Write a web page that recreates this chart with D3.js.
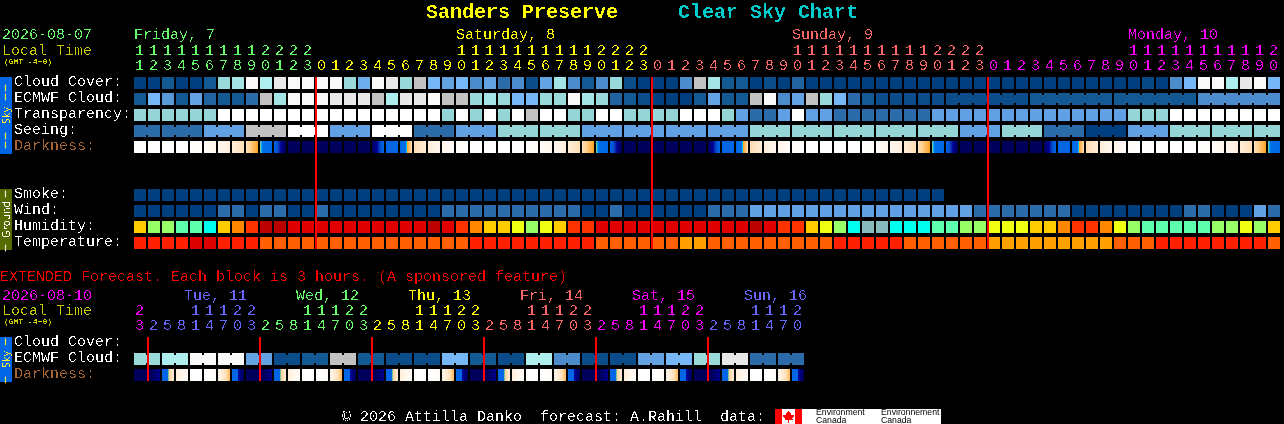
<!DOCTYPE html>
<html><head><meta charset="utf-8">
<script src="https://cdn.jsdelivr.net/npm/d3@7"></script>
<style>html,body{margin:0;padding:0;background:#000;overflow:hidden}svg{display:block}</style>
</head><body><svg id="c" width="1284" height="424"></svg>
<script>
// ---------- tick labels ----------
const mainHours = [11,12,13,14,15,16,17,18,19,20,21,22,23,
 0,1,2,3,4,5,6,7,8,9,10,11,12,13,14,15,16,17,18,19,20,21,22,23,
 0,1,2,3,4,5,6,7,8,9,10,11,12,13,14,15,16,17,18,19,20,21,22,23,
 0,1,2,3,4,5,6,7,8,9,10,11,12,13,14,15,16,17,18,19,20];
const mainHourDay = [0,0,0,0,0,0,0,0,0,0,0,0,0,
 1,1,1,1,1,1,1,1,1,1,1,1,1,1,1,1,1,1,1,1,1,1,1,1,
 2,2,2,2,2,2,2,2,2,2,2,2,2,2,2,2,2,2,2,2,2,2,2,2,
 3,3,3,3,3,3,3,3,3,3,3,3,3,3,3,3,3,3,3,3,3];
const mainDayNames = ["Friday, 7","Saturday, 8","Sunday, 9","Monday, 10"];
const mainDayCols = [0,23,47,71];
const mainDayColors = ["#66ff66","#ffff00","#ff6666","#ff00ff"];
const midnightCols = [13,37,61];
const extHours = [23,2,5,8,11,14,17,20,23,2,5,8,11,14,17,20,23,2,5,8,11,14,17,20,23,2,5,8,11,14,17,20,23,2,5,8,11,14,17,20,23,2,5,8,11,14,17,20];
const extHourDay = [0,1,1,1,1,1,1,1,1,2,2,2,2,2,2,2,2,3,3,3,3,3,3,3,3,4,4,4,4,4,4,4,4,5,5,5,5,5,5,5,5,6,6,6,6,6,6,6];
const extDayNames = ["Tue, 11","Wed, 12","Thu, 13","Fri, 14","Sat, 15","Sun, 16"];
const extDayCols = [3.6,11.6,19.6,27.6,35.6,43.6];
const extDayColors = ["#ff00ff","#6666ff","#66ff66","#ffff00","#ff6666","#ff00ff","#6666ff"];
const extMidnightCols = [1,9,17,25,33,41];

// ---------- series (levels 0 = clear ... 10 = overcast) ----------
const cloudCover = [10,10,9,10,10,9,4,3.5,0,3,1,0,0,
 0,0,4,5.5,0,1,4,2,5,
 6,5,7,6,8,7,9.5,6,3.5,7,9,7,4,9.5,10,
 10,10,7,2,3.5,9,9,10,9.5,10,8.5,10,10,10,10,
 10,10,10,10,10,10,10,10,10,10,10,10,10,10,10,10,10,10,10,10,9.7,10,
 7,5,0,0,3,1,0,5];
const ecmwfCloud = [9,5,6.5,9,6,8.5,9,9,8,2,3.5,0,0,
 0,1,1,1,2,3,1,1,0,
 2,2,4,3.5,4,5,5,4,4,0,3.5,4,8.5,9,9.5,
 10,10,10,9,6,9,9,2,0,7,6,2,4,5,8,
 9,9.5,9.5,9.5,9.5,9.5,
 9.5,9.5,9.5,9.5,9.5,9.5, 9,9,9,9,9,9, 9,9,9,9,9,9, 7,7,7,7,7,7];
const ecmwfSpans = [1,1,1,1,1,1,1,1,1,1,1,1,1,1,1,1,1,1,1,1,1,1,1,1,1,1,1,1,1,1,1,1,1,1,1,1,1,1,1,1,1,1,1,1,1,1,1,1,1,1,1,1,1,1,1,1,1,1,6,6,6,6];
const transparency = [4,4,4,4,4,4,
 0,0,0,0,0,0,0,0,0,0,0,0,0,0,0,0,
 4,0,4,0,4,0,2,0,0,4,4,0,0,4,4,4,4,0,0,0,4,6,8,8,6,0,6,6,8,8,
 8,8,8,8,8,
 6,6,6,6,6,6,6,6,6,6,6,6,6,6,
 4,4,4,
 0,0,0,0,0,0,0,0];
const seeingSpans = [2,3,3,3,3,3,3,3,3,3,3,3,3,3,3,3,3,3,3,3,3,3,3,3,3,3,3,2];
const seeingLevels = [8,8,6,2,0,6,0,8,6,4,4,6,6,6,6,4,4,4,4,4,6,4,8,10,6,4,4,4];
// darkness read at each cell edge (83 edges): 0 daylight, 3 sunset, 5 twilight, 7 full night
const darknessEdges = [0,0,0,0,0,.15,.5,1,1.6,3,5,7,7,7,7,7,7,7,5,5,1.7,1,.5,.2,
 0,0,0,0,0,.15,.5,1,1.6,3,5,7,7,7,7,7,7,7,5,5,1.7,1,.5,.2,
 0,0,0,0,0,.15,.5,1,1.6,3,5,7,7,7,7,7,7,7,5,5,1.7,1,.5,.2,
 0,0,0,0,0,.15,.5,1,1.6,3,5];
const smokeLevels = [0,0,0,0,0,0,0,0,0,0,0,0,0,0,0,0,0,0,0,0,0,0,0,0,0,0,0,0,0,0,0,0,0,0,0,0,0,0,0,0,0,0,0,0,0,0,0,0,0,0,0,0,0,0,0,0,0,0];
const windLevels = [0,0,0,0,0,0,1,1,0,1,1,0,0,1,0,0,0,0,0,0,0,0,
 1,1,1,1,1,1,1,1,1,1,0,0,1,0,0,0,0,0,0,1,1,1,2,2,2,2,2,2,2,2,
 2,2,2,2,2,2,2,2,1,1,1,1,1,1,1,0,0,0,0,0,0,0,0,1,1,0,0,0,2,1];
const humidityLevels = [5,3,3,2,2,1,5,6,7,9,9,8,8,8,8,8,8,8,8,8,8,9,
 8,7,6,5,5,4,3,4,5,7,7,8,8,8,8,8,8,8,8,8,8,8,9,8,7,7,5,4,3,1,
 0,0,1,1,1,2,2,3,3,4,4,4,5,5,6,7,7,6,4,3,2,2,2,2,2,3,3,4,3,5];
const temperatureLevels = [1,1,1,1,0,0,1,1,1,2,2,2,2,2,2,2,2,2,2,2,2,2,2,2,
 1,1,1,1,1,1,1,1,1,2,2,2,2,2,2,3,3,2,2,2,2,2,2,2,2,2,1,1,
 1,1,1,2,2,2,2,2,2,3,3,3,3,3,3,3,3,3,2,2,2,1,1,1,1,1,1,1,1,2];
const extCloudSpans = [2,2,2,2,2,2,2,2,2,2,2,2,2,2,2,2,2,2,2,2,2,2,2,2];
const extCloudLevels = [4,3,0,0,6,9.5,9,2,9,9.5,9.5,5,9,9.5,3,7,9.5,9.5,6,5,4,1,8,8];
const extDarkness = ["n","m","r","d","w","e","s","t","n","m","r","d","w","e","s","t","n","m","r","d","w","e","s","t","n","m","r","d","w","e","s","t","n","m","r","d","w","e","s","t","n","m","r","d","w","e","s","t"];
const extDarkJoin = [0,8,16,24,32,40];
const extDarkProfiles = {n:[7,7], m:[7,7,6.7,6.3], r:[5,5,5,5,5,5,3,1.9,1.7,1.5,1.2,1], d:[1,.5,.1], w:[0,0], e:[0,0,.1,.3], s:[.5,1,1.6,2.7], t:[5,5,5,5,5,5,6.2,6.2,6.6,6.6,7,7]};

// ---------- text ----------
const skyRows = ["Cloud Cover:","ECMWF Cloud:","Transparency:","Seeing:","Darkness:"];
const groundRows = ["Smoke:","Wind:","Humidity:","Temperature:"];
const titleText = "Sanders Preserve", titleText2 = "Clear Sky Chart";
const extTitle = "EXTENDED Forecast. Each block is 3 hours. (A sponsored feature)";
const footerText = "\u00a9 2026 Attilla Danko  forecast: A.Rahill  data:";

// ---------- scales ----------
const x = d3.scaleBand().domain(d3.range(82)).range([134, 134 + 82*14 - 2]).paddingInner(1/7).paddingOuter(0);
const xe = d3.scaleBand().domain(d3.range(48)).range([134, 134 + 48*14 - 2]).paddingInner(1/7).paddingOuter(0);
const y = d3.scaleBand().domain(d3.range(11)).range([77, 77 + 11*16 - 4]).paddingInner(1/4).paddingOuter(0);
const ye = d3.scaleBand().domain(d3.range(3)).range([337, 337 + 3*16 - 4]).paddingInner(1/4).paddingOuter(0);
const levels = d3.range(11);
const cloudColor = d3.scaleLinear().domain(levels).range(["#f9f9f9","#e8e8e8","#c2c2c2","#aeeeee","#99d9d9","#76b7f7","#63a3e3","#4c8ccc","#2c6baa","#135a95","#003f7f"]);
const skyColor = d3.scaleLinear().domain(levels).range(["#ffffff","#e8e8e8","#c2c2c2","#aeeeee","#95d5d5","#76b7f7","#60a0e3","#4c8ccc","#2c6baa","#135a95","#003f7f"]);
const windColor = d3.scaleOrdinal().domain([0,1,2]).range(["#003f7f","#2c6baa","#60a0e3"]);
const humidityColor = d3.scaleOrdinal().domain(d3.range(10)).range(["#88bbbb","#00ffee","#5fffb0","#99ff66","#eeff11","#ffcc00","#ff8800","#ff3300","#e00000","#bb0000"]);
const temperatureColor = d3.scaleOrdinal().domain([0,1,2,3]).range(["#dd0000","#ff2000","#ff5f00","#ffa000"]);
const darkColor = d3.scaleLinear()
  .domain([0,.5,1,2,3,3.15,3.4,5,5.6,6.2,7])
  .range(["#ffffff","#fff6ec","#ffeeda","#ffd49c","#ffa520","#00d8ff","#0070e8","#0066e6","#0050cc","#000090","#00005c"]);

const svg = d3.select("#c");
const defs = svg.append("defs");
const flt = defs.append("filter").attr("id","crisp").attr("filterUnits","userSpaceOnUse")
  .attr("x",0).attr("y",0).attr("width",1284).attr("height",424).attr("color-interpolation-filters","sRGB");
flt.append("feComponentTransfer").append("feFuncA").attr("type","discrete").attr("tableValues","0 0 0 1 1");

const marks = svg.append("g").attr("shape-rendering","crispEdges");
const texts = svg.append("g").attr("filter","url(#crisp)").style("font-family","'Liberation Mono','DejaVu Sans Mono',monospace").style("font-size","15px");

function cells(scaleX, yPos, h, values, color) {
  marks.append("g").selectAll("rect").data(values).join("rect")
    .attr("x",(d,i)=>scaleX(i)).attr("y",yPos).attr("width",scaleX.bandwidth()).attr("height",h)
    .attr("fill",d=>color(d));
}
function bridges(scaleX, yPos, h, values, spans, color) {
  let start = 0; const links = [];
  spans.forEach(n => { for (let k=0;k<n-1;k++) links.push(start+k); start += n; });
  marks.append("g").selectAll("rect").data(links).join("rect")
    .attr("x",i=>scaleX(i)+scaleX.bandwidth()).attr("y",yPos+2)
    .attr("width",scaleX.step()-scaleX.bandwidth()).attr("height",h-4)
    .attr("fill",i=>color(values[i]));
}
const expand = (spans, vals) => spans.flatMap((n,i)=>d3.range(n).map(()=>vals[i]));

// ---------- sky block ----------
const bh = y.bandwidth();
cells(x, y(0), bh, cloudCover, cloudColor);
cells(x, y(1), bh, ecmwfCloud, cloudColor);
bridges(x, y(1), bh, ecmwfCloud, ecmwfSpans, cloudColor);
cells(x, y(2), bh, transparency, skyColor);
const seeing = expand(seeingSpans, seeingLevels);
cells(x, y(3), bh, seeing, skyColor);
bridges(x, y(3), bh, seeing, seeingSpans, skyColor);

// darkness: one-pixel strips across each cell
const px = d3.range(12);
marks.append("g").selectAll("g").data(d3.range(82)).join("g").each(function(i){
  const f = d3.interpolateNumber(darknessEdges[i], darknessEdges[i+1]);
  d3.select(this).selectAll("rect").data(px).join("rect")
    .attr("x",j=>x(i)+j).attr("y",y(4)).attr("width",1).attr("height",bh)
    .attr("fill",j=>darkColor(f((j+.5)/12)));
});

// ---------- ground block ----------
cells(x, y(7), bh, smokeLevels, windColor);
cells(x, y(8), bh, windLevels, windColor);
cells(x, y(9), bh, humidityLevels, humidityColor);
cells(x, y(10), bh, temperatureLevels, temperatureColor);

// ---------- extended ----------
const extCloud = expand(extCloudSpans, extCloudLevels);
cells(xe, ye(1), bh, extCloud, cloudColor);
bridges(xe, ye(1), bh, extCloud, extCloudSpans, cloudColor);
marks.append("g").selectAll("g").data(d3.range(48)).join("g").each(function(i){
  const f = d3.piecewise(d3.interpolateNumber, extDarkProfiles[extDarkness[i]]);
  d3.select(this).selectAll("rect").data(px).join("rect")
    .attr("x",j=>xe(i)+j).attr("y",ye(2)).attr("width",1).attr("height",bh)
    .attr("fill",j=>darkColor(f((j+.5)/12)));
});
marks.append("g").selectAll("rect").data(extDarkJoin).join("rect")
  .attr("x",i=>xe(i)+xe.bandwidth()).attr("y",ye(2)).attr("width",xe.step()-xe.bandwidth()).attr("height",bh)
  .attr("fill",darkColor(7));

// ---------- midnight lines ----------
marks.append("g").selectAll("rect").data(midnightCols).join("rect")
  .attr("x",i=>x(i)-1).attr("y",y(0)).attr("width",2).attr("height",y(10)+bh-y(0)).attr("fill","#ff0000");
marks.append("g").selectAll("rect").data(extMidnightCols).join("rect")
  .attr("x",i=>xe(i)-1).attr("y",ye(0)).attr("width",2).attr("height",ye(2)+bh-ye(0)).attr("fill","#ff0000");

// ---------- side tabs ----------
marks.append("rect").attr("x",0).attr("y",77).attr("width",12).attr("height",77).attr("fill","#0066e6");
marks.append("rect").attr("x",0).attr("y",189).attr("width",12).attr("height",61).attr("fill","#556b00");
marks.append("rect").attr("x",0).attr("y",337).attr("width",12).attr("height",45).attr("fill","#0066e6");

// ---------- text ----------
function label(str,xp,yp,color,opts={}) {
  const t = texts.append("text").attr("x",xp).attr("y",yp).attr("fill",color).text(str).style("white-space","pre");
  if (opts.size) t.style("font-size",opts.size+"px");
  if (opts.bold) t.style("font-weight","bold");
  return t;
}
label(titleText,426,18,"#ffff00",{size:20,bold:true});
label(titleText2,678,18,"#00cccc",{size:20,bold:true});
label("2026-08-07",2,39,"#66ff66");
label("Local Time",2,55,"#cccc00");
label("(GMT -4+0)",4,64,"#cccc00",{size:8,bold:true});
mainDayNames.forEach((n,i)=>label(n,x(mainDayCols[i]),39,mainDayColors[i]));

function hourAxis(scale, hours, days, colors, yp, fmt) {
  const ax = d3.axisBottom(scale).tickSize(0).tickPadding(0).tickFormat(i=>fmt(hours[i]));
  const g = texts.append("g").attr("transform",`translate(0,${yp})`).call(ax);
  g.select(".domain").remove();
  g.attr("font-size",null).attr("font-family",null).attr("text-anchor",null);
  g.selectAll(".tick").attr("transform",i=>`translate(${Math.round(scale(i))},0)`);
  g.selectAll(".tick text").attr("x",1).attr("y",0).attr("dy",null).attr("fill",(i)=>colors[days[i]]);
}
const tens = h => h>=10 ? String(Math.floor(h/10)) : "";
const units = h => String(h%10);
hourAxis(x,mainHours,mainHourDay,mainDayColors,55,tens);
hourAxis(x,mainHours,mainHourDay,mainDayColors,70,units);

skyRows.forEach((s,i)=>label(s,14,y(i)+9,i===4?"#a86432":"#ffffff"));
groundRows.forEach((s,i)=>label(s,14,y(i+7)+9,"#ffffff"));

label(extTitle,0,281,"#ff0000");
label("2026-08-10",2,300,"#ff00ff");
label("Local Time",2,315,"#cccc00");
label("(GMT -4+0)",4,324,"#cccc00",{size:8,bold:true});
extDayNames.forEach((n,i)=>label(n,Math.round(xe(0)+extDayCols[i]*14),300,extDayColors[i+1]));
hourAxis(xe,extHours,extHourDay,extDayColors,315,tens);
hourAxis(xe,extHours,extHourDay,extDayColors,330,units);
label("Cloud Cover:",14,346,"#ffffff");
label("ECMWF Cloud:",14,362,"#ffffff");
label("Darkness:",14,378,"#a86432");

// rotated tab text
const tabs = svg.append("g");
function tabWord(str,cy,color){
  texts.append("text").attr("transform",`translate(9.5,${cy}) rotate(-90)`).attr("text-anchor","middle")
    .attr("fill",color).style("font-size","10px").style("font-family","'DejaVu Sans',sans-serif").text(str);
}
function tabDash(str,cy,color){
  tabs.append("text").attr("transform",`translate(8.2,${cy}) rotate(-90)`).attr("text-anchor","middle")
    .attr("fill",color).attr("stroke",color).attr("stroke-width",0.35)
    .style("font-size","10px").style("letter-spacing","3px").style("font-family","'Liberation Mono',monospace").text(str);
}
tabDash("\u2014\u2014",91,"#ffff33");
tabWord("Sky",115.5,"#ffff33");
tabDash("\u2014\u2014",139,"#ffff33");
tabDash("\u2014",192.5,"#ffffff");
tabWord("Ground",219.5,"#ffffff");
tabDash("\u2014",246.5,"#ffffff");
tabDash("\u2014",340.5,"#ffff33");
tabWord("Sky",359.5,"#ffff33");
tabDash("\u2014",378.5,"#ffff33");

// footer
label(footerText,342,421,"#ffffff");
marks.append("rect").attr("x",775).attr("y",409).attr("width",166).attr("height",15).attr("fill","#ffffff");
marks.append("rect").attr("x",775).attr("y",409).attr("width",7).attr("height",15).attr("fill","#ff0000");
marks.append("rect").attr("x",795).attr("y",409).attr("width",7).attr("height",15).attr("fill","#ff0000");
svg.append("path").attr("transform","translate(788.5,416.5)")
  .attr("d","M0,-6L1.5,-3.5L3,-4L2.5,-1L5,-2L6,-0.5L3.5,2L4,3L0.5,3L0.5,6L-0.5,6L-0.5,3L-4,3L-3.5,2L-6,-0.5L-5,-2L-2.5,-1L-3,-4L-1.5,-3.5Z")
  .attr("fill","#ff0000").attr("shape-rendering","crispEdges");
const logo = svg.append("g").style("font-family","'Liberation Sans',sans-serif").style("font-size","8.7px").attr("fill","#000");
[[816,"Environment","Canada"],[881,"Environnement","Canada"]].forEach(([lx,a,b])=>{
  logo.append("text").attr("x",lx).attr("y",415).text(a);
  logo.append("text").attr("x",lx).attr("y",423).text(b);
});
</script></body></html>
